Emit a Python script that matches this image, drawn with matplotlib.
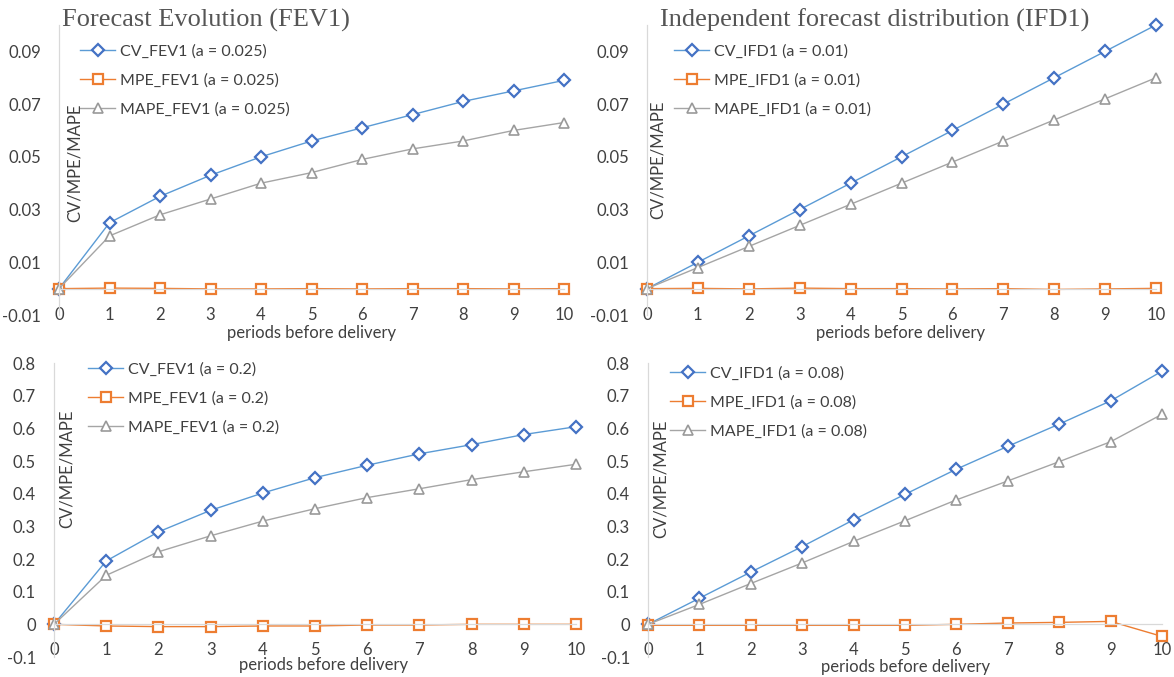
import matplotlib.pyplot as plt

# ------------------------------------------------------
# DATA
# ------------------------------------------------------

periods = list(range(11))

cv_fev_a025 = [0, 0.025, 0.035, 0.043, 0.050, 0.056, 0.061, 0.066, 0.071, 0.075, 0.079]
mpe_fev_a025 = [0, 0.0002, 0.0001, -0.0001, -0.0001, 0, -0.0001, 0, 0, -0.0001, 0]
mape_fev_a025 = [0, 0.020, 0.028, 0.034, 0.040, 0.044, 0.049, 0.053, 0.056, 0.060, 0.063]

cv_ifd_a001 = [0, 0.010, 0.020, 0.030, 0.040, 0.050, 0.060, 0.070, 0.080, 0.090, 0.100]
mpe_ifd_a001 = [0, 0.0001, -0.0001, 0.0002, 0, 0, -0.0001, 0, -0.0003, -0.0001, 0.0001]
mape_ifd_a001 = [0, 0.008, 0.016, 0.024, 0.032, 0.040, 0.048, 0.056, 0.064, 0.072, 0.080]

cv_fev_a02 = [0, 0.194, 0.283, 0.349, 0.402, 0.449, 0.487, 0.522, 0.550, 0.581, 0.605]
mpe_fev_a02 = [0, -0.005, -0.007, -0.007, -0.005, -0.005, -0.002, -0.002, 0, 0, 0]
mape_fev_a02 = [0, 0.150, 0.222, 0.271, 0.316, 0.354, 0.388, 0.415, 0.443, 0.467, 0.490]

cv_ifd_a008 = [0, 0.080, 0.160, 0.238, 0.320, 0.398, 0.475, 0.545, 0.613, 0.684, 0.775]
mpe_ifd_a008 = [-0.003, -0.003, -0.003, -0.003, -0.003, -0.003, 0, 0.004, 0.006, 0.009, -0.037]
mape_ifd_a008 = [0, 0.061, 0.125, 0.188, 0.254, 0.317, 0.381, 0.439, 0.498, 0.559, 0.643]

small_ticks = [-0.01, 0.01, 0.03, 0.05, 0.07, 0.09]
small_labels = ["-0.01", "0.01", "0.03", "0.05", "0.07", "0.09"]
big_ticks = [-0.1, 0, 0.1, 0.2, 0.3, 0.4, 0.5, 0.6, 0.7, 0.8]
big_labels = ["-0.1", "0", "0.1", "0.2", "0.3", "0.4", "0.5", "0.6", "0.7", "0.8"]

# ------------------------------------------------------
# STYLE
# ------------------------------------------------------

W, H = 1174, 677
TXT = "#404040"
AXC = "#D9D9D9"
FS = 12
plt.rcParams["font.family"] = ["Lato", "DejaVu Sans"]

fig = plt.figure(figsize=(W / 100, H / 100), dpi=100)


def px_axes(x0, x1, ytop, ybot):
    return fig.add_axes([x0 / W, 1 - ybot / H, (x1 - x0) / W, (ybot - ytop) / H])


def panel(box, cv, mpe, mape, names, ylim, ticks, labels, leg_xy, ylab_xy, xlab_xy):
    ax = px_axes(*box)
    ax.plot(periods, cv, color="#5B9BD5", lw=1.0, marker="D", ms=6,
            mfc="white", mec="#4472C4", mew=1.6, clip_on=False, label=names[0])
    ax.plot(periods, mpe, color="#ED7D31", lw=1.0, marker="s", ms=7.5,
            mfc="white", mec="#ED7D31", mew=1.6, clip_on=False, label=names[1])
    ax.plot(periods, mape, color="#A5A5A5", lw=1.0, marker="^", ms=7.5,
            mfc="white", mec="#999999", mew=1.2, clip_on=False, label=names[2])
    ax.set_xlim(0, 10)
    ax.set_ylim(*ylim)
    ax.set_xticks(periods)
    ax.set_yticks(ticks)
    ax.set_yticklabels(labels)
    for s in ["top", "right"]:
        ax.spines[s].set_visible(False)
    ax.spines["bottom"].set_position(("data", 0))
    for s in ["bottom", "left"]:
        ax.spines[s].set_color(AXC)
        ax.spines[s].set_linewidth(0.9)
    ax.tick_params(axis="x", length=0, pad=13, labelsize=FS, labelcolor=TXT)
    ax.tick_params(axis="y", length=0, pad=13, labelsize=FS, labelcolor=TXT)
    ax.set_facecolor("none")
    ax.legend(loc="upper left", bbox_to_anchor=(leg_xy[0] / W, 1 - leg_xy[1] / H),
              bbox_transform=fig.transFigure, frameon=False, fontsize=11.5,
              labelcolor=TXT, handlelength=2.2, handletextpad=0.3,
              labelspacing=0.92, borderpad=0, borderaxespad=0)
    fig.text(ylab_xy[0] / W, 1 - ylab_xy[1] / H, "CV/MPE/MAPE", rotation=90,
             ha="center", va="center", fontsize=FS, color=TXT)
    fig.text(xlab_xy[0] / W, 1 - xlab_xy[1] / H, "periods before delivery",
             ha="center", va="center", fontsize=FS, color=TXT)
    return ax


panel((59, 564, 25, 315), cv_fev_a025, mpe_fev_a025, mape_fev_a025,
      ["CV_FEV1 (a = 0.025)", "MPE_FEV1 (a = 0.025)", "MAPE_FEV1 (a = 0.025)"],
      (-0.01, 0.1), small_ticks, small_labels, (80, 44), (75, 163), (312, 333))
panel((647, 1156, 25, 315), cv_ifd_a001, mpe_ifd_a001, mape_ifd_a001,
      ["CV_IFD1 (a = 0.01)", "MPE_IFD1 (a = 0.01)", "MAPE_IFD1 (a = 0.01)"],
      (-0.01, 0.1), small_ticks, small_labels, (674, 44), (658, 160), (901, 333))
panel((54, 576, 363, 657), cv_fev_a02, mpe_fev_a02, mape_fev_a02,
      ["CV_FEV1 (a = 0.2)", "MPE_FEV1 (a = 0.2)", "MAPE_FEV1 (a = 0.2)"],
      (-0.1, 0.8), big_ticks, big_labels, (88, 362), (67, 469), (324, 665))
panel((648, 1162, 363, 657), cv_ifd_a008, mpe_ifd_a008, mape_ifd_a008,
      ["CV_IFD1 (a = 0.08)", "MPE_IFD1 (a = 0.08)", "MAPE_IFD1 (a = 0.08)"],
      (-0.1, 0.8), big_ticks, big_labels, (670, 366), (661, 479), (906, 667))

fig.text(62 / W, 1 - 20 / H, "Forecast Evolution (FEV1)", family="Liberation Serif",
         fontsize=19, color="#555555", ha="left", va="center")
fig.text(660 / W, 1 - 20 / H, "Independent forecast distribution (IFD1)",
         family="Liberation Serif", fontsize=19, color="#555555", ha="left", va="center")

fig.savefig("out.png", dpi=100)
